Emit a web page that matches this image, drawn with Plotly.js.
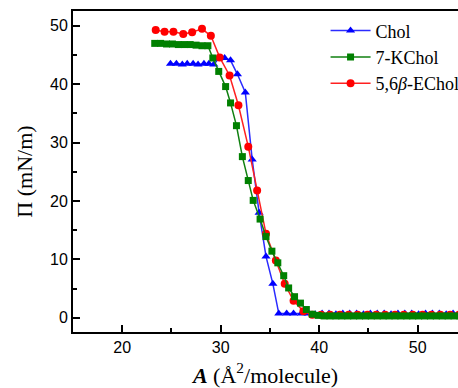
<!DOCTYPE html>
<html>
<head>
<meta charset="utf-8">
<script src="https://cdn.plot.ly/plotly-3.0.1.min.js"></script>
<style>html,body{margin:0;padding:0;background:#fff;}#chart{width:458px;height:388px;}</style>
</head>
<body>
<div id="chart"></div>
<script>
// Chol (blue triangles)
var cholArea = [24.9,25.5,26.1,26.6,27.2,27.7,28.3,28.8,29.3,29.8,30.4,31.0,31.7,32.5,33.2,33.9,34.6,35.3,35.9,36.7,37.4,38.2,38.9,39.6,40.3,41.0,41.7,42.4,43.1,43.8,44.5,45.2,45.9,46.6,47.3,48.0,48.7,49.4,50.1,50.8,51.5,52.2,52.9,53.6,54.3];
var cholPi   = [43.5,43.5,43.4,43.5,43.5,43.4,43.5,43.5,43.4,44.4,44.5,44.1,41.7,38.6,27.1,18.0,10.5,5.8,0.7,0.7,0.7,0.7,0.7,0.6,0.7,0.7,0.6,0.7,0.7,0.7,0.6,0.7,0.7,0.7,0.6,0.7,0.7,0.7,0.6,0.7,0.7,0.7,0.6,0.7,0.7];

// 7-KChol (green squares)
var kcholArea = [23.3,23.9,24.5,25.1,25.7,26.3,26.9,27.5,28.1,28.7,29.2,29.8,30.5,31.0,31.6,32.2,32.8,33.3,34.0,34.6,35.2,35.8,36.4,36.9,37.5,38.1,38.7,39.3,39.9,40.5,41.1,41.7,42.3,42.9,43.5,44.1,44.7,45.3,45.9,46.5,47.1,47.7,48.3,48.9,49.5,50.1,50.7,51.3,51.9,52.5,53.1,53.7,54.3];
var kcholPi   = [47.0,47.0,46.9,46.9,46.8,46.8,46.8,46.7,46.6,46.6,44.5,42.2,39.6,36.8,32.9,27.6,23.5,20.1,16.9,13.9,11.4,9.4,7.2,5.1,3.6,2.5,1.4,0.6,0.4,0.3,0.3,0.3,0.3,0.3,0.3,0.3,0.3,0.3,0.3,0.3,0.3,0.3,0.3,0.3,0.3,0.3,0.3,0.3,0.3,0.3,0.3,0.3,0.3];

// 5,6beta-EChol (red circles)
var echolArea = [23.4,24.3,25.2,26.2,27.1,28.1,29.0,29.9,30.9,31.8,32.8,33.7,34.6,35.6,36.5,37.4,38.4,39.3,40.2,41.1,42.1,43.0,43.9,44.9,45.8,46.7,47.7,48.6,49.5,50.5,51.4,52.3,53.3,54.2];
var echolPi   = [49.3,49.0,49.0,48.6,48.9,49.5,48.3,44.6,41.5,36.4,29.3,21.8,14.4,9.8,5.8,2.9,1.1,0.5,0.5,0.5,0.5,0.5,0.5,0.5,0.5,0.5,0.5,0.5,0.5,0.5,0.5,0.5,0.5,0.5];

var seriesNames = ['Chol', '7-KChol', '5,6<i>β</i>-EChol'];
var xTitle = '<b><i>A</i></b> (Å<sup>2</sup>/molecule)';
var yTitle = 'Π (mN/m)';

var serif = 'Liberation Serif, Times New Roman, serif';
var sans = 'Liberation Sans, Arial, sans-serif';

var traces = [
  {x: cholArea, y: cholPi, name: seriesNames[0], mode: 'lines+markers', legendrank: 1,
   line: {color: '#2b2bff', width: 1.5}, marker: {symbol: 'triangle-up', size: 8, color: '#0000ff'}},
  {x: echolArea, y: echolPi, name: seriesNames[2], mode: 'lines+markers', legendrank: 3,
   line: {color: '#ff2020', width: 1.5}, marker: {symbol: 'circle', size: 8, color: '#ff0000'}},
  {x: kcholArea, y: kcholPi, name: seriesNames[1], mode: 'lines+markers', legendrank: 2,
   line: {color: '#108010', width: 1.5}, marker: {symbol: 'square', size: 7, color: '#008000'}}
];

var layout = {
  width: 458, height: 388,
  margin: {l: 73, r: 0, t: 11, b: 56, pad: 0, autoexpand: false},
  paper_bgcolor: '#fff', plot_bgcolor: '#fff',
  showlegend: true,
  legend: {x: 0.656, y: 0.996, xanchor: 'left', yanchor: 'top', bgcolor: 'rgba(0,0,0,0)',
           font: {family: serif, size: 18, color: '#000'}, itemwidth: 40, tracegroupgap: 0},
  xaxis: {
    range: [15, 54.1], showgrid: false, zeroline: false, automargin: false,
    showline: true, linecolor: '#000', linewidth: 2, mirror: true,
    ticks: 'inside', ticklen: 7, tickwidth: 2, tickcolor: '#000',
    tick0: 0, dtick: 10,
    minor: {ticks: 'inside', ticklen: 4, tickwidth: 2, dtick: 5, tickcolor: '#000'},
    tickfont: {family: sans, size: 16, color: '#000'},
    title: {text: xTitle, font: {family: serif, size: 22, color: '#000'}, standoff: 12}
  },
  yaxis: {
    range: [-2.45, 52.55], showgrid: false, zeroline: false, automargin: false,
    showline: true, linecolor: '#000', linewidth: 2, mirror: true,
    ticks: 'inside', ticklen: 7, tickwidth: 2, tickcolor: '#000',
    tick0: 0, dtick: 10,
    minor: {ticks: 'inside', ticklen: 4, tickwidth: 2, dtick: 5, tickcolor: '#000'},
    tickfont: {family: sans, size: 16, color: '#000'},
    title: {text: yTitle, font: {family: serif, size: 22, color: '#000'}, standoff: 11}
  }
};

Plotly.newPlot('chart', traces, layout, {displayModeBar: false, staticPlot: true});
</script>
</body>
</html>
